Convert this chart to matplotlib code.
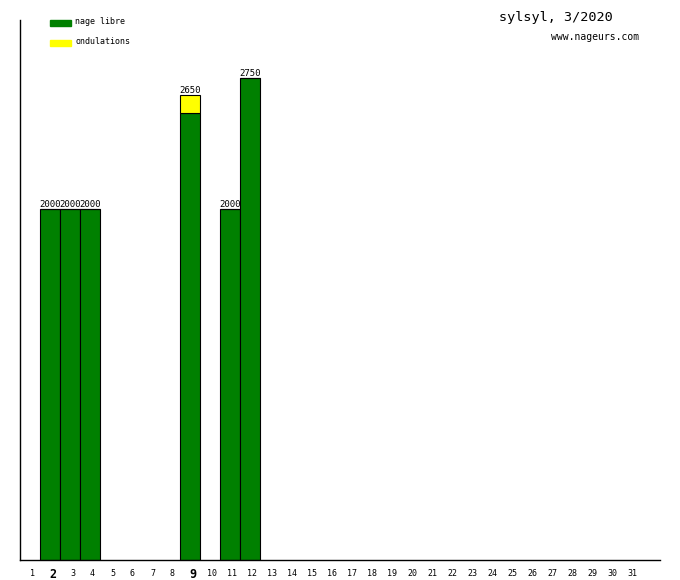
import matplotlib.pyplot as plt
from matplotlib.patches import Rectangle
from matplotlib.transforms import ScaledTranslation

days = list(range(1, 32))
bar_days = [2, 3, 4, 9, 11, 12]
nage_libre = [2000, 2000, 2000, 2550, 2000, 2750]
ondulations = [0, 0, 0, 100, 0, 0]
totals = [a + b for a, b in zip(nage_libre, ondulations)]
bold_days = [2, 9]

GREEN = "#008000"
YELLOW = "#ffff00"
MONO = "DejaVu Sans Mono"

fig = plt.figure(figsize=(6.8, 5.8), dpi=100)
ax = fig.add_axes([20 / 680, 20 / 580, 640 / 680, 540 / 580])

ax.bar(bar_days, nage_libre, width=1.0, color=GREEN, edgecolor="black", linewidth=0.8)
ax.bar(bar_days, ondulations, width=1.0, bottom=nage_libre, color=YELLOW,
       edgecolor="black", linewidth=0.8)

# totals just above the bars
val_trans = ax.transData + ScaledTranslation(0, 4.5 / 100, fig.dpi_scale_trans)
for d, t in zip(bar_days, totals):
    ax.text(d, t, str(t), transform=val_trans, ha="center", va="center",
            fontsize=6.5, family=MONO)

ax.set_xlim(0.5, 32.5)
ax.set_ylim(0, 3080)
ax.set_xticks([])
ax.set_yticks([])

# day labels, a bit right of the bar centres like the original
lab_trans = ax.get_xaxis_transform() + ScaledTranslation(2.5 / 100, -14 / 100, fig.dpi_scale_trans)
for d in days:
    if d in bold_days:
        ax.text(d, 0, str(d), transform=lab_trans, ha="center", va="center",
                fontsize=8.5, fontweight="bold", family=MONO)
    else:
        ax.text(d, 0, str(d), transform=lab_trans, ha="center", va="center",
                fontsize=6, family=MONO)

for s in ["top", "right"]:
    ax.spines[s].set_visible(False)
ax.spines["left"].set_linewidth(1)
ax.spines["bottom"].set_linewidth(1)

# legend
fig.patches.append(Rectangle((50 / 680, 1 - 26 / 580), 21 / 680, 6 / 580,
                             transform=fig.transFigure, color=GREEN))
fig.patches.append(Rectangle((50 / 680, 1 - 46 / 580), 21 / 680, 6 / 580,
                             transform=fig.transFigure, color=YELLOW))
fig.text(75 / 680, 1 - 22 / 580, "nage libre", fontsize=6, family=MONO, va="center")
fig.text(75 / 680, 1 - 42 / 580, "ondulations", fontsize=6, family=MONO, va="center")

fig.text(556 / 680, 1 - 18 / 580, "sylsyl, 3/2020", fontsize=9.7, family=MONO,
         ha="center", va="center")
fig.text(595 / 680, 1 - 37 / 580, "www.nageurs.com", fontsize=7, family=MONO,
         ha="center", va="center")

fig.savefig("out.png", dpi=100)
